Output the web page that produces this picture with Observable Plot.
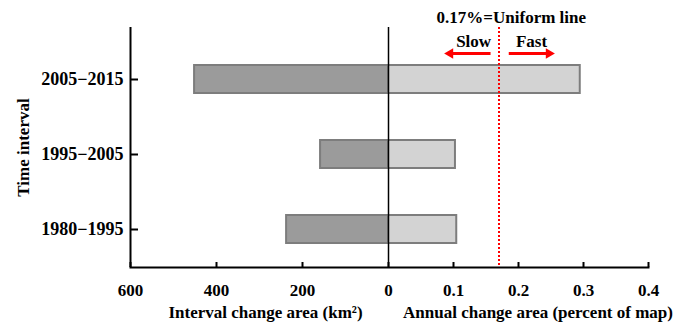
<!DOCTYPE html>
<html>
<head>
<meta charset="utf-8">
<script src="https://cdn.jsdelivr.net/npm/d3@7"></script>
<script src="https://cdn.jsdelivr.net/npm/@observablehq/plot@0.6"></script>
<style>
  html, body { margin: 0; padding: 0; background: #fff; }
  svg { display: block; }
</style>
</head>
<body>
<div id="chart"></div>
<script>
const intervals = ["2005−2015", "1995−2005", "1980−1995"];
const intervalChangeKm2 = [451, 158, 237];
const annualChangePct = [0.295, 0.103, 0.105];
const uniformLine = 0.17;
const leftTicks = [600, 400, 200, 0];
const rightTicks = [0.1, 0.2, 0.3, 0.4];

const leftData = intervals.map((t, i) => ({interval: t, value: intervalChangeKm2[i]}));
const rightData = intervals.map((t, i) => ({interval: t, value: annualChangePct[i]}));
const tickValues = [...leftTicks.map(d => -d), ...rightTicks];

const FONT = "Liberation Serif, Times New Roman, serif";
const RED = "#ff0000";

// annotation arrows (Slow / Fast)
const shafts = [
  {a: 0.157, b: 0.097, y: intervals[0]},
  {a: 0.185, b: 0.245, y: intervals[0]}
];
const heads = [
  {x: 0.0949, y: intervals[0], rot: -90},
  {x: 0.2467, y: intervals[0], rot: 90}
];

const chart = Plot.plot({
  width: 677,
  height: 327,
  marginLeft: 130,
  marginRight: 29,
  marginTop: 27,
  marginBottom: 60,
  style: {fontFamily: FONT, fontWeight: "bold", background: "#fff", color: "#000", overflow: "visible"},
  x: {type: "linear", domain: [-600, 0, 0.4], range: [130, 388, 648]},
  y: {type: "band", domain: intervals, range: [40.25, 266.75], paddingInner: 0.63, paddingOuter: 0.315, align: 0.5},
  marks: [
    Plot.barX(leftData, {y: "interval", x1: d => -d.value, x2: 0, fill: "#9b9b9b", stroke: "#7d7d7d", strokeWidth: 2}),
    Plot.barX(rightData, {y: "interval", x1: 0, x2: "value", fill: "#d3d3d3", stroke: "#7d7d7d", strokeWidth: 2}),
    Plot.ruleX([0], {stroke: "#000", strokeWidth: 1.5}),
    Plot.ruleX([uniformLine], {stroke: RED, strokeWidth: 2, strokeDasharray: "2,2"}),
    Plot.ruleX([-600], {stroke: "#000", strokeWidth: 2}),
    Plot.frame({anchor: "bottom", stroke: "#000", strokeWidth: 2}),
    Plot.axisX({ticks: tickValues, tickFormat: d => String(Math.abs(d)), tickSize: -5, tickPadding: 21, fontSize: 17, label: null, stroke: "#000", strokeWidth: 2}),
    Plot.axisY({tickSize: -8, tickPadding: 15, fontSize: 18, label: null, stroke: "#000", strokeWidth: 2}),
    Plot.text(["Time interval"], {frameAnchor: "left", textAnchor: "middle", lineAnchor: "middle", dx: -107, rotate: -90, fontSize: 17}),
    Plot.text(["Interval change area (km²)"], {x: -286, frameAnchor: "bottom", lineAnchor: "middle", dy: 45, fontSize: 17}),
    Plot.text(["Annual change area (percent of map)"], {x: 0.23, frameAnchor: "bottom", lineAnchor: "middle", dy: 45, fontSize: 17}),
    Plot.text(["0.17%=Uniform line"], {x: 0.189, frameAnchor: "top", lineAnchor: "middle", dy: -10, fontSize: 17}),
    Plot.text(["Slow"], {x: 0.131, frameAnchor: "top", lineAnchor: "middle", dy: 14, fontSize: 17}),
    Plot.text(["Fast"], {x: 0.22, frameAnchor: "top", lineAnchor: "middle", dy: 14, fontSize: 17}),
    Plot.link(shafts, {x1: "a", x2: "b", y1: "y", y2: "y", dy: -26, stroke: RED, strokeWidth: 3}),
    Plot.dot(heads, {x: "x", y: "y", dy: -26, symbol: "triangle2", r: 5, rotate: "rot", fill: RED, stroke: "none"})
  ]
});
document.getElementById("chart").appendChild(chart);
</script>
</body>
</html>
